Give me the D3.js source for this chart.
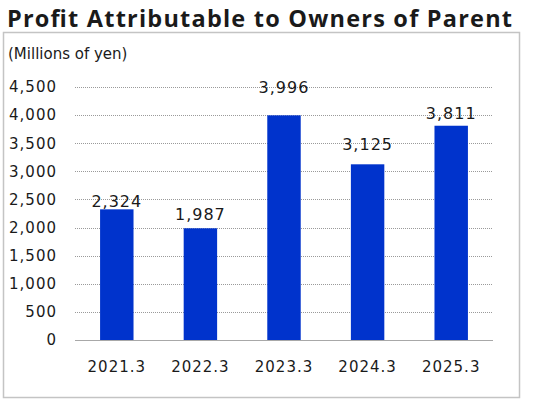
<!DOCTYPE html>
<html>
<head>
<meta charset="utf-8">
<script src="https://cdn.jsdelivr.net/npm/d3@7"></script>
<style>
    body { margin: 0; background: #fff; }
    text { font-family: "DejaVu Sans", Verdana, sans-serif; fill: #1a1a1a; }
</style>
</head>
<body>
<div id="chart"></div>
<script>
/*global d3*/
"use strict";

var years = ["2021.3", "2022.3", "2023.3", "2024.3", "2025.3"];
var profit = [2324, 1987, 3996, 3125, 3811];
var yTicks = [0, 500, 1000, 1500, 2000, 2500, 3000, 3500, 4000, 4500];

// gap between bar top and its value label, as in the original layout
var labelGap = [2, 8, 22, 14, 7];

var svgWidth = 533;
var svgHeight = 412;
var plot = {left: 75, right: 493, top: 87, bottom: 340};

var svg = d3.select("#chart").append("svg")
    .attr("width", svgWidth)
    .attr("height", svgHeight);

svg.append("text")
    .attr("x", 7)
    .attr("y", 27)
    .attr("textLength", 505)
    .attr("lengthAdjust", "spacing")
    .style("font-family", "\"Open Sans\", sans-serif")
    .style("font-size", "23.5px")
    .style("font-weight", "bold")
    .text("Profit Attributable to Owners of Parent");

// frame
svg.append("rect")
    .attr("x", 3.5)
    .attr("y", 32.5)
    .attr("width", 516)
    .attr("height", 365)
    .attr("fill", "none")
    .attr("stroke", "#c4c4c4")
    .attr("stroke-width", 1.5);

svg.append("text")
    .attr("x", 8)
    .attr("y", 59)
    .style("font-size", "15px")
    .text("(Millions of yen)");

var x = d3.scaleBand()
    .domain(years)
    .range([plot.left, plot.right])
    .paddingInner(0.6)
    .paddingOuter(0.3);

var y = d3.scaleLinear()
    .domain([0, 4500])
    .range([plot.bottom, plot.top]);

// grid lines
svg.append("g")
    .selectAll("line")
    .data(yTicks.filter(function (d) { return d > 0; }))
    .enter().append("line")
    .attr("x1", plot.left)
    .attr("x2", plot.right)
    .attr("y1", function (d) { return Math.round(y(d)) + 0.5; })
    .attr("y2", function (d) { return Math.round(y(d)) + 0.5; })
    .attr("stroke", "#9a9a9a")
    .attr("stroke-width", 1)
    .attr("stroke-dasharray", "1,1");

// y axis labels
var yAxis = svg.append("g")
    .attr("transform", "translate(" + (plot.left - 18) + ",0)")
    .call(d3.axisLeft(y).tickValues(yTicks).tickSize(0).tickPadding(0).tickFormat(d3.format(",")));
yAxis.select(".domain").remove();
yAxis.selectAll("text")
    .style("font-size", "15px")
    .style("letter-spacing", "1px")
    .style("font-family", "\"DejaVu Sans\", Verdana, sans-serif")
    .attr("fill", "#1a1a1a");

// bars
svg.append("g")
    .selectAll("rect")
    .data(profit)
    .enter().append("rect")
    .attr("x", function (d, i) { return x(years[i]); })
    .attr("y", function (d) { return y(d); })
    .attr("width", x.bandwidth())
    .attr("height", function (d) { return y(0) - y(d); })
    .attr("fill", "#0033cc");

// baseline
svg.append("line")
    .attr("x1", plot.left)
    .attr("x2", plot.right)
    .attr("y1", plot.bottom + 0.5)
    .attr("y2", plot.bottom + 0.5)
    .attr("stroke", "#a8a8a8")
    .attr("stroke-width", 1.2);

// value labels
svg.append("g")
    .selectAll("text")
    .data(profit)
    .enter().append("text")
    .attr("x", function (d, i) { return x(years[i]) + x.bandwidth() / 2; })
    .attr("y", function (d, i) { return y(d) - labelGap[i]; })
    .attr("text-anchor", "middle")
    .style("font-size", "16px")
    .style("letter-spacing", "1px")
    .text(d3.format(","));

// x axis labels
var xAxis = svg.append("g")
    .attr("transform", "translate(0," + plot.bottom + ")")
    .call(d3.axisBottom(x).tickSize(0).tickPadding(21));
xAxis.select(".domain").remove();
xAxis.selectAll("text")
    .style("font-size", "15px")
    .style("letter-spacing", "1px")
    .style("font-family", "\"DejaVu Sans\", Verdana, sans-serif")
    .attr("fill", "#1a1a1a");
</script>
</body>
</html>
